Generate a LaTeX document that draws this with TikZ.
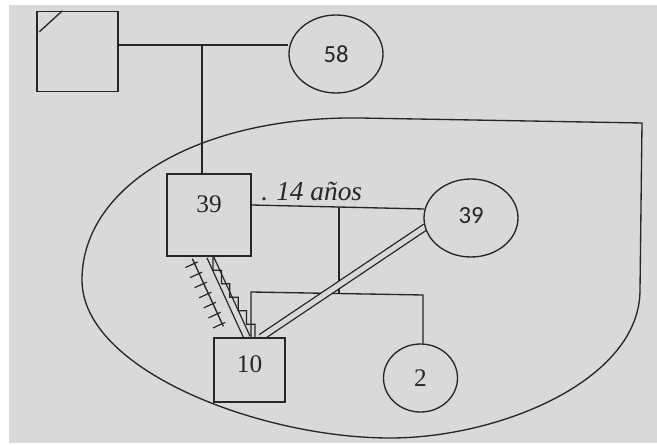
\documentclass[tikz,border=0pt]{standalone}
\usepackage{fontspec}
\setmainfont{Liberation Serif}
\newfontfamily\carl{Carlito}
\usetikzlibrary{calc,shapes.geometric,decorations.markings}
\definecolor{paper}{HTML}{D9D9D9}
\definecolor{ink}{HTML}{262626}
\pgfdeclarelayer{back}
\pgfdeclarelayer{links}
\pgfsetlayers{back,links,main}
\begin{document}
\begin{tikzpicture}[x=0.75pt,y=-0.75pt,
  box/.style={draw=ink, fill=paper, rectangle, inner sep=0pt, line width=1pt,
    text=ink, font=\fontsize{19}{20}\selectfont, text height=12.8pt},
  oval/.style={draw=ink, fill=paper, ellipse, inner sep=0pt, line width=1pt,
    text=ink, text height=12.5pt},
  link/.style={draw=ink, line width=1pt},
  dbl/.style={link, double=paper, double distance=3.8pt},
  hatchline/.style={link, postaction={decorate},
    decoration={markings, mark=between positions 0.07 and 0.97 step 8.3pt with
      {\draw[ink, line width=0.9pt] (0,-7.5pt) -- (0,2.5pt);}}},
  stairline/.style={link, line width=0.95pt},
  encl/.style={draw=ink, line width=1pt}
]
\useasboundingbox (0,0) rectangle (657,445);
\begin{pgfonlayer}{back}
  \fill[white] (0,0) rectangle (657,445);
  \fill[paper] (9,5) rectangle (657,443);
\end{pgfonlayer}

% persons
\node[box, minimum width=60.75pt, minimum height=60pt] (gf) at (77.5,51.5) {};
\node[oval, minimum width=70.5pt, minimum height=58.5pt, font=\carl\fontsize{18.5}{20}\selectfont] (gm) at (336,54) {58};
\node[box, minimum width=63pt, minimum height=61.5pt, text depth=16.8pt] (f) at (209,215) {39};
\node[oval, minimum width=70.5pt, minimum height=58.5pt, text depth=4.5pt, font=\carl\fontsize{18.5}{20}\selectfont] (m) at (471,218) {39};
\node[box, minimum width=53.25pt, minimum height=48pt, text depth=9pt] (s) at (249.5,370) {10};
\node[oval, minimum width=55.5pt, minimum height=51pt, font=\fontsize{19}{20}\selectfont] (d) at (420.5,378) {2};
\node[font=\fontsize{20.5}{22}\selectfont\itshape, text=ink, anchor=base west, inner sep=0pt] (yrs) at (261,201) {.\hspace{0.3em}14 años};

% deceased mark
\draw[link] ($(gf.north west)+(3,21)$) -- ($(gf.north west)+(26,0)$);

\coordinate (j1) at (202,45);
\coordinate (j2) at (339,207);
\coordinate (j3) at (339,293.5);
\coordinate (sl) at (251,292);
\coordinate (sr) at (423,295);

\begin{pgfonlayer}{links}
  % household enclosure
  \draw[encl] (642,123) -- (360,118)
    .. controls (200,116) and (82,185) .. (82,280)
    .. controls (82,370) and (260,438) .. (390,438)
    .. controls (500,438) and (640,380) .. (640,290) -- cycle;
  % grandparents
  \draw[link] (gf.east |- j1) -- (gm.west |- j1);
  \draw[link] (j1) -- (j1 |- f.north);
  % parents
  \draw[link] ($(f.east)+(0,-10)$) -- ($(m.west)+(1,-9)$);
  \draw[link] (j2) -- (j3);
  \draw[link] (s.north -| sl) -- (sl) -- (sr) -- (sr |- d.north);
  % relations
  \draw[dbl] ($(s.north)+(11.5,0)$) -- ($(m.west)+(2,9)$);
  \draw[dbl] ($(f.south)+(1,0)$) -- ($(s.north)+(-2.5,0)$);
  \draw[hatchline] ($(f.south west)+(26,2)$) -- ($(s.north west)+(10,-11)$);
  \draw[stairline] ($(f.south)+(4,0)$)
    -- ++(0,13.5) -- ++(8.4,0) -- ++(0,13.5) -- ++(8.4,0) -- ++(0,13.5) -- ++(8.4,0)
    -- ++(0,13.5) -- ++(8.4,0) -- ++(0,13.5) -- ++(8.4,0)
    -- (s.north -| 255,0);
\end{pgfonlayer}
\end{tikzpicture}
\end{document}
